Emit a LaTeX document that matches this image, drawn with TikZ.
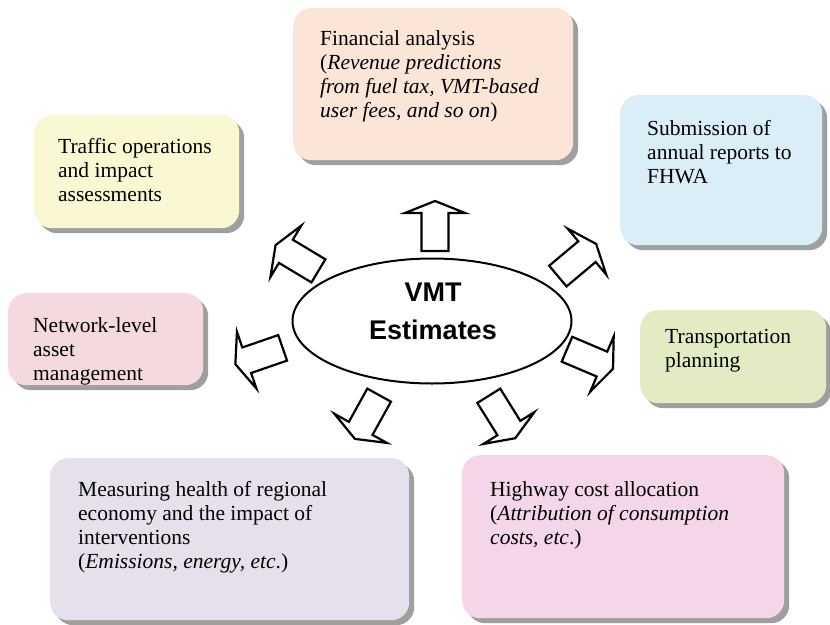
\documentclass[tikz,border=0pt]{standalone}
\usepackage{fontspec}
\setmainfont{Liberation Serif}
\newfontfamily\headfont{Liberation Sans}
\usetikzlibrary{shadows,shapes.geometric}

\definecolor{finfill}{HTML}{FBE5D6}
\definecolor{trafill}{HTML}{FAF8D2}
\definecolor{subfill}{HTML}{DAEEF7}
\definecolor{netfill}{HTML}{F4DADF}
\definecolor{plafill}{HTML}{E2EBC4}
\definecolor{meafill}{HTML}{E5E0EC}
\definecolor{hwyfill}{HTML}{F5D5E8}

% left-aligned block whose baseline is that of its first line
\newcommand\cardlines[1]{\begin{tabular}[t]{@{}l@{}}#1\end{tabular}}

\begin{document}
\begin{tikzpicture}[x=1pt,y=-1pt,
  card/.style={rounded corners=18pt, draw=none, anchor=north west, inner sep=0pt,
    drop shadow={shadow xshift=5pt, shadow yshift=-5pt, fill=black!50, opacity=0.75}},
  cardtext/.style={anchor=base west, inner sep=0pt,
    font=\fontsize{21.5}{24.2}\selectfont},
  blockarrow/.style={draw=black, line width=2.2pt, fill=white, line join=miter}]

\useasboundingbox (0,0) rectangle (830,624);
\fill[white] (0,0) rectangle (830,624);

% surrounding cards
\node[card, fill=finfill, minimum width=280pt, minimum height=152pt] (fin) at (293,8) {};
\node[cardtext] (fintext) at (320,45) {\cardlines{Financial analysis\\(\textit{Revenue predictions}\\\textit{from fuel tax, VMT-based}\\\textit{user fees, and so on})}};

\node[card, fill=trafill, minimum width=205pt, minimum height=113pt] (tra) at (34,115) {};
\node[cardtext] (tratext) at (58,153) {\cardlines{Traffic operations\\and impact\\assessments}};

\node[card, fill=subfill, minimum width=202pt, minimum height=150pt] (sub) at (620,95) {};
\node[cardtext] (subtext) at (647,135) {\cardlines{Submission of\\annual reports to\\FHWA}};

\node[card, fill=netfill, minimum width=195pt, minimum height=92pt] (net) at (8,293) {};
\node[cardtext] (nettext) at (33,332) {\cardlines{Network-level\\asset\\management}};

\node[card, fill=plafill, minimum width=186pt, minimum height=93pt] (pla) at (640,310) {};
\node[cardtext] (platext) at (665,343) {\cardlines{Transportation\\planning}};

\node[card, fill=meafill, minimum width=359pt, minimum height=162pt] (mea) at (50,458) {};
\node[cardtext] (meatext) at (78,496) {\cardlines{Measuring health of regional\\economy and the impact of\\interventions\\(\textit{Emissions, energy, etc}.)}};

\node[card, fill=hwyfill, minimum width=322pt, minimum height=163pt] (hwy) at (462,455) {};
\node[cardtext] (hwytext) at (490,496) {\cardlines{Highway cost allocation\\(\textit{Attribution of consumption}\\\textit{costs, etc}.)}};

% central ellipse
\node[draw=black, line width=2pt, fill=white, ellipse, inner sep=0pt,
  minimum width=279pt, minimum height=125pt] (vmt) at (432,321) {};
\node[font=\headfont\bfseries\fontsize{27}{38}\selectfont, align=center, inner sep=0pt]
  (vmttext) at (433,311) {VMT\\Estimates};

% outward block arrows: centre x, centre y, direction
\foreach \cx/\cy/\ang in {435/226/90, 297/258/149, 577/260/40, 590/359/-23,
                          259/356/199, 367/417/241, 502/417/-58} {
  \draw[blockarrow, shift={(\cx,\cy)}, rotate=\ang]
    (25,0) -- (13,30) -- (13,13.5) -- (-25,13.5) -- (-25,-13.5)
    -- (13,-13.5) -- (13,-30) -- cycle;
}
\end{tikzpicture}
\end{document}
